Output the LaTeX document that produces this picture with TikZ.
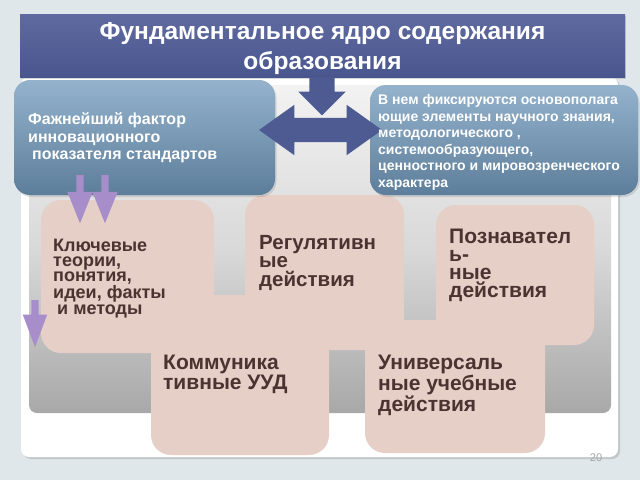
\documentclass[tikz,border=0pt]{standalone}
\usepackage{fontspec}
\setmainfont{Liberation Sans}
\usetikzlibrary{positioning,shapes.arrows,shadows}
\definecolor{backgr}{HTML}{DFE7EB}
\definecolor{titleblue}{HTML}{4D5A95}
\definecolor{arrowblue}{HTML}{4E5B93}
\definecolor{bluetop}{HTML}{94B2CC}
\definecolor{bluebot}{HTML}{5D7E9B}
\definecolor{pink}{HTML}{E5CFC6}
\definecolor{brown}{HTML}{4B3331}
\definecolor{lilac}{HTML}{A88DCB}

\begin{document}
\begin{tikzpicture}[x=1pt,y=-1pt,
  plate/.style={anchor=north west,inner sep=0pt,outer sep=0pt},
  bluebox/.style={plate,rounded corners=16pt,top color=bluetop,bottom color=bluebot,
    drop shadow={opacity=0.25,shadow xshift=1.5pt,shadow yshift=-2pt}},
  pinkbox/.style={plate,rounded corners=20pt,fill=pink},
  bluetext/.style={anchor=north west,inner sep=0pt,align=left,text=white,font=\bfseries},
  pinktext/.style={anchor=north west,inner sep=0pt,align=left,text=brown,font=\bfseries},
  downarrow/.style={single arrow,shape border rotate=270,anchor=tail}]

  \useasboundingbox (0,0) rectangle (640,480);
  \fill[backgr] (0,0) rectangle (640,480);

  \node[plate,rounded corners=8pt,fill=white,minimum width=597pt,minimum height=380pt,
    drop shadow={opacity=0.3,shadow xshift=2pt,shadow yshift=-2pt}] (panel) at (21,77) {};
  \node[plate,rounded corners=8pt,top color=white!95!black,bottom color=white!66!black,
    middle color=white!85!black,minimum width=582pt,minimum height=328pt] (inner) at (29,85) {};

  \node[pinkbox,minimum width=173pt,minimum height=153pt] (k1) at (41,200) {};
  \node[pinkbox,minimum width=159pt,minimum height=155pt] (k2) at (245,195) {};
  \node[pinkbox,minimum width=158pt,minimum height=140pt] (k3) at (436,205) {};
  \node[pinkbox,minimum width=178pt,minimum height=160pt] (k4) at (151,295) {};
  \node[pinkbox,minimum width=180pt,minimum height=133pt] (k5) at (365,320) {};

  \node[bluebox,minimum width=261pt,minimum height=115pt] (lbox) at (14,80) {};
  \node[bluebox,minimum width=268pt,minimum height=110pt] (rbox) at (370,85) {};

  \node[plate,top color=titleblue!90!white,bottom color=titleblue!95!black,
    minimum width=605pt,minimum height=63pt,
    drop shadow={opacity=0.3,shadow xshift=1pt,shadow yshift=-2pt}] (title) at (20,14) {};
  \node[text=white,font=\bfseries\fontsize{24.5}{30}\selectfont,align=center] (titletxt)
    at ([yshift=-3.5pt]title.center) {Фундаментальное ядро содержания\\образования};

  \node[downarrow,fill=arrowblue,inner sep=12.5pt,minimum height=33pt,minimum width=47pt,
    single arrow head extend=11pt] (down) at (title.south -| 322,0) {};
  \node[double arrow,fill=arrowblue,inner sep=12pt,minimum height=123pt,minimum width=50pt,
    double arrow head extend=13pt,double arrow tip angle=71] (link) at (320.5,130) {};

  \node[downarrow,fill=lilac,inner sep=3.5pt,minimum height=48pt,minimum width=25pt,
    single arrow head extend=9pt,single arrow tip angle=44] (la) at (80,175) {};
  \node[downarrow,fill=lilac,inner sep=3.5pt,minimum height=48pt,minimum width=25pt,
    single arrow head extend=9pt,single arrow tip angle=44] (lb) at (105,175) {};
  \node[downarrow,fill=lilac,inner sep=3.5pt,minimum height=47pt,minimum width=24pt,
    single arrow head extend=8.5pt,single arrow tip angle=41] (lc) at (35,300) {};

  \node[bluetext,font=\bfseries\fontsize{16}{17.5}\selectfont,below right=32.5pt and 14pt of lbox.north west]
    (ltxt) {Фажнейший фактор\\инновационного\\\hspace*{4pt}показателя стандартов};
  \node[bluetext,font=\bfseries\fontsize{14}{16.5}\selectfont,below right=9.5pt and 8pt of rbox.north west]
    (rtxt) {В нем фиксируются основополага\\ющие элементы научного знания,\\методологического ,\\
      системообразующего,\\ценностного и мировозренческого\\характера};

  \node[pinktext,font=\bfseries\fontsize{18}{15.2}\selectfont,below right=39pt and 12pt of k1.north west]
    (k1txt) {Ключевые\\теории,\\понятия,\\идеи, факты\\\hspace*{4pt}и методы};
  \node[pinktext,font=\bfseries\fontsize{20.5}{18.5}\selectfont,below right=40pt and 14pt of k2.north west]
    (k2txt) {Регулятивн\\ые\\действия};
  \node[pinktext,font=\bfseries\fontsize{21}{18}\selectfont,below right=24pt and 13pt of k3.north west]
    (k3txt) {Познавател\\ь-\\ные\\действия};
  \node[pinktext,font=\bfseries\fontsize{21}{18.5}\selectfont,below right=60pt and 12pt of k4.north west]
    (k4txt) {Коммуника\\тивные УУД};
  \node[pinktext,font=\bfseries\fontsize{21}{18.5}\selectfont,below right=35pt and 13pt of k5.north west]
    (k5txt) {Универсаль\\ные учебные\\действия};

  \node[text=black!35,font=\fontsize{11}{13}\selectfont] (pagenum) at (596,458) {20};
\end{tikzpicture}
\end{document}
